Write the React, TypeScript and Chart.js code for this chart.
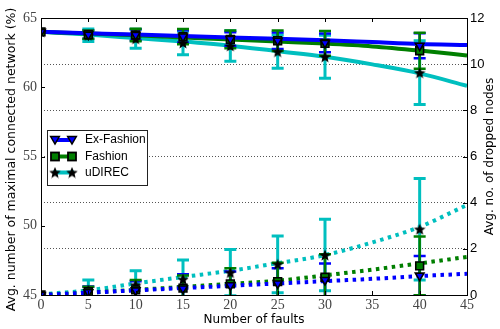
import { useEffect, useRef } from 'react';
import { Chart, registerables } from 'chart.js';
Chart.register(...registerables);

// ---- data ----
const faults = [0, 5, 10, 15, 20, 25, 30, 40];
const fitX = [0, 5, 10, 15, 20, 25, 30, 35, 40, 45];

// left axis: avg. maximal connected network (%)
const exFashionNet = [64, 63.8, 63.78, 63.66, 63.48, 63.36, 63.2, 63.0];
const exFashionNetErr = [0, 0.3, 0.4, 0.45, 0.5, 0.6, 0.68, 0.9];
const fashionNet = [64, 63.8, 63.77, 63.65, 63.46, 63.36, 63.17, 62.64];
const fashionNetErr = [0, 0.3, 0.45, 0.55, 0.64, 0.74, 0.89, 1.3];
const udirecNet = [64, 63.75, 63.5, 63.2, 62.98, 62.57, 62.2, 61.05];
const udirecNetErr = [0, 0.45, 0.68, 0.85, 1.1, 1.2, 1.55, 2.3];

const exFashionNetFit = [64, 63.9, 63.8, 63.7, 63.6, 63.5, 63.4, 63.26, 63.12, 63.05];
const fashionNetFit = [64, 63.88, 63.75, 63.6, 63.45, 63.3, 63.15, 62.95, 62.65, 62.3];
const udirecNetFit = [64, 63.8, 63.55, 63.3, 63.0, 62.6, 62.2, 61.65, 61.0, 60.1];

// right axis: avg. no. of dropped nodes
const exFashionDrop = [0, 0.12, 0.2, 0.28, 0.42, 0.5, 0.65, 0.84];
const exFashionDropErr = [0, 0.25, 0.4, 0.62, 0.6, 0.66, 0.72, 0.85];
const fashionDrop = [0, 0.14, 0.22, 0.3, 0.48, 0.58, 0.77, 1.26];
const fashionDropErr = [0, 0.22, 0.43, 0.55, 0.68, 0.82, 1.0, 1.27];
const udirecDrop = [0, 0.2, 0.43, 0.68, 0.97, 1.33, 1.73, 2.85];
const udirecDropErr = [0, 0.45, 0.62, 0.84, 1.0, 1.23, 1.55, 2.2];

const exFashionDropFit = [0, 0.1, 0.2, 0.3, 0.4, 0.5, 0.6, 0.7, 0.82, 0.92];
const fashionDropFit = [0, 0.1, 0.22, 0.35, 0.48, 0.62, 0.85, 1.1, 1.37, 1.65];
const udirecDropFit = [0.03, 0.2, 0.5, 0.78, 1.05, 1.38, 1.73, 2.28, 2.95, 3.9];

const seriesNames = ['Ex-Fashion', 'Fashion', 'uDIREC'];
const xTitle = 'Number of faults';
const yTitle = 'Avg. number of maximal connected network (%)';
const y2Title = 'Avg. no. of dropped nodes';

const BLUE = '#0000ff';
const GREEN = '#007f00';
const CYAN = '#00bfbf';

function starPath(ctx: CanvasRenderingContext2D, cx: number, cy: number, r: number) {
  ctx.beginPath();
  for (let i = 0; i < 10; i++) {
    const rad = i % 2 === 0 ? r : r * 0.45;
    const a = -Math.PI / 2 + (i * Math.PI) / 5;
    ctx.lineTo(cx + rad * Math.cos(a), cy + rad * Math.sin(a));
  }
  ctx.closePath();
}

function makeStar(r: number) {
  const c = document.createElement('canvas');
  const s = Math.ceil(r * 2 + 3);
  c.width = s;
  c.height = s;
  const ctx = c.getContext('2d')!;
  starPath(ctx, s / 2, s / 2 + 0.5, r);
  ctx.fillStyle = '#000';
  ctx.fill();
  ctx.lineWidth = 1.2;
  ctx.strokeStyle = '#000';
  ctx.stroke();
  return c;
}

function drawTri(ctx: CanvasRenderingContext2D, x: number, y: number, r: number, fill: string) {
  ctx.beginPath();
  ctx.moveTo(x - r * 0.866, y - r * 0.5);
  ctx.lineTo(x + r * 0.866, y - r * 0.5);
  ctx.lineTo(x, y + r);
  ctx.closePath();
  ctx.fillStyle = fill;
  ctx.fill();
  ctx.lineWidth = 1.5;
  ctx.strokeStyle = '#000';
  ctx.stroke();
}
function drawSq(ctx: CanvasRenderingContext2D, x: number, y: number, h: number, fill: string) {
  ctx.fillStyle = fill;
  ctx.fillRect(x - h, y - h, 2 * h, 2 * h);
  ctx.lineWidth = 1.8;
  ctx.strokeStyle = '#000';
  ctx.strokeRect(x - h, y - h, 2 * h, 2 * h);
}

export default function App() {
  const ref = useRef<HTMLCanvasElement | null>(null);
  useEffect(() => {
    document.body.style.margin = '0';
    const star = makeStar(4.5);
    const pts = (xs: number[], ys: number[]) => xs.map((x, i) => ({ x, y: ys[i] }));

    const markerDs = (data: number[], axis: string, style: any, color: string, radius: number, rot = 0) => ({
      data: pts(faults, data),
      yAxisID: axis,
      showLine: false,
      pointStyle: style,
      pointRadius: radius,
      pointRotation: rot,
      pointBackgroundColor: color,
      pointBorderColor: '#000',
      pointBorderWidth: 1.6,
      clip: 0,
    });
    const lineDs = (data: number[], axis: string, color: string, dotted: boolean) => ({
      data: pts(fitX, data),
      yAxisID: axis,
      borderColor: color,
      borderWidth: 4,
      borderDash: dotted ? [3.5, 4.5] : [],
      pointRadius: 0,
      cubicInterpolationMode: 'monotone',
      fill: false,
    });

    const errSets = [
      { c: CYAN, y: udirecNet, e: udirecNetErr, a: 'y', w: 3 },
      { c: CYAN, y: udirecDrop, e: udirecDropErr, a: 'y2', w: 3 },
      { c: BLUE, y: exFashionNet, e: exFashionNetErr, a: 'y', w: 2.5 },
      { c: BLUE, y: exFashionDrop, e: exFashionDropErr, a: 'y2', w: 2.5 },
      { c: GREEN, y: fashionNet, e: fashionNetErr, a: 'y', w: 2.5 },
      { c: GREEN, y: fashionDrop, e: fashionDropErr, a: 'y2', w: 2.5 },
    ];

    const errPlugin = {
      id: 'errbars',
      beforeDatasetDraw(chart: any, args: any) {
        if (args.index !== 5) return;
        const ctx = chart.ctx;
        const ca = chart.chartArea;
        const xs = chart.scales.x;
        ctx.save();
        ctx.beginPath();
        ctx.rect(ca.left, ca.top, ca.right - ca.left, ca.bottom - ca.top);
        ctx.clip();
        for (const s of errSets) {
          const ys = chart.scales[s.a];
          ctx.strokeStyle = s.c;
          ctx.lineWidth = s.w;
          faults.forEach((f, i) => {
            if (s.e[i] <= 0) return;
            const px = xs.getPixelForValue(f);
            const top = ys.getPixelForValue(s.y[i] + s.e[i]);
            const bot = ys.getPixelForValue(s.y[i] - s.e[i]);
            ctx.beginPath();
            ctx.moveTo(px, top);
            ctx.lineTo(px, bot);
            ctx.moveTo(px - 6, top);
            ctx.lineTo(px + 6, top);
            ctx.moveTo(px - 6, bot);
            ctx.lineTo(px + 6, bot);
            ctx.stroke();
          });
        }
        ctx.restore();
      },
    };

    const decoPlugin = {
      id: 'deco',
      afterDraw(chart: any) {
        const ctx = chart.ctx;
        const ca = chart.chartArea;
        const { x, y, y2 } = chart.scales;
        ctx.save();
        // frame
        ctx.strokeStyle = '#000';
        ctx.lineWidth = 1;
        ctx.strokeRect(Math.round(ca.left) + 0.5, Math.round(ca.top) + 0.5, Math.round(ca.right - ca.left), Math.round(ca.bottom - ca.top));
        // inward ticks
        ctx.beginPath();
        for (let v = 0; v <= 45; v += 5) {
          const px = Math.round(x.getPixelForValue(v)) + 0.5;
          ctx.moveTo(px, ca.bottom);
          ctx.lineTo(px, ca.bottom - 4);
          ctx.moveTo(px, ca.top);
          ctx.lineTo(px, ca.top + 4);
        }
        for (let v = 45; v <= 65; v += 5) {
          const py = Math.round(y.getPixelForValue(v)) + 0.5;
          ctx.moveTo(ca.left, py);
          ctx.lineTo(ca.left + 4, py);
        }
        for (let v = 0; v <= 12; v += 2) {
          const py = Math.round(y2.getPixelForValue(v)) + 0.5;
          ctx.moveTo(ca.right, py);
          ctx.lineTo(ca.right - 4, py);
        }
        ctx.stroke();

        // axis titles
        ctx.fillStyle = '#000';
        ctx.textAlign = 'center';
        ctx.textBaseline = 'middle';
        const cy = (ca.top + ca.bottom) / 2;
        ctx.font = '12px "DejaVu Sans"';
        ctx.fillText(xTitle, (ca.left + ca.right) / 2, 320);
        ctx.save();
        ctx.translate(12, cy + 3);
        ctx.rotate(-Math.PI / 2);
        ctx.font = '12.5px "DejaVu Sans"';
        ctx.fillText(yTitle, 0, 0);
        ctx.restore();
        ctx.save();
        ctx.translate(490, cy);
        ctx.rotate(-Math.PI / 2);
        ctx.font = '12px "DejaVu Sans"';
        ctx.fillText(y2Title, 0, 0);
        ctx.restore();

        // legend
        const lx = 47, ly = 130, lw = 100, lh = 55;
        ctx.fillStyle = '#fff';
        ctx.fillRect(lx, ly, lw, lh);
        ctx.strokeStyle = '#222';
        ctx.lineWidth = 1;
        ctx.strokeRect(lx + 0.5, ly + 0.5, lw, lh);
        const rows = [140, 156.5, 172.5];
        const cols = [BLUE, GREEN, CYAN];
        rows.forEach((ry, i) => {
          ctx.strokeStyle = cols[i];
          ctx.lineWidth = 4;
          ctx.beginPath();
          ctx.moveTo(53, ry);
          ctx.lineTo(74, ry);
          ctx.stroke();
          [55, 72].forEach((mx) => {
            if (i === 0) drawTri(ctx, mx, ry - 1, 5, BLUE);
            else if (i === 1) drawSq(ctx, mx, ry, 4, GREEN);
            else ctx.drawImage(star, mx - star.width / 2, ry - star.height / 2);
          });
          ctx.fillStyle = '#000';
          ctx.font = '12px "Liberation Sans"';
          ctx.textAlign = 'left';
          ctx.textBaseline = 'middle';
          ctx.fillText(seriesNames[i], 85, ry);
        });
        ctx.restore();
      },
    };

    const serif = { family: '"Liberation Serif"', size: 14 };
    const chart = new Chart(ref.current!, {
      type: 'line',
      data: {
        datasets: [
          markerDs(exFashionNet, 'y', 'triangle', BLUE, 5, 180),
          markerDs(exFashionDrop, 'y2', 'triangle', BLUE, 5, 180),
          markerDs(fashionNet, 'y', 'rect', GREEN, 5.5),
          markerDs(fashionDrop, 'y2', 'rect', GREEN, 5.5),
          markerDs(udirecNet, 'y', star, '#000', 5),
          markerDs(udirecDrop, 'y2', star, '#000', 5),
          lineDs(exFashionNetFit, 'y', BLUE, false),
          lineDs(fashionNetFit, 'y', GREEN, false),
          lineDs(udirecNetFit, 'y', CYAN, false),
          lineDs(exFashionDropFit, 'y2', BLUE, true),
          lineDs(fashionDropFit, 'y2', GREEN, true),
          lineDs(udirecDropFit, 'y2', CYAN, true),
        ] as any,
      },
      options: {
        animation: false,
        responsive: false,
        maintainAspectRatio: false,
        layout: { padding: { top: 18, left: 0, right: 0, bottom: 0 } },
        plugins: { legend: { display: false }, tooltip: { enabled: false } },
        scales: {
          x: {
            type: 'linear',
            min: 0,
            max: 45,
            ticks: { stepSize: 5, font: serif, color: '#444', padding: 2, maxRotation: 0 },
            grid: { display: false, drawTicks: false },
            border: { display: false },
            afterFit: (s: any) => { s.height = 34; },
          },
          y: {
            position: 'left',
            min: 45,
            max: 65,
            ticks: { stepSize: 5, font: serif, color: '#444', padding: 4 },
            grid: { display: false, drawTicks: false },
            border: { display: false },
            afterFit: (s: any) => { s.width = 41; },
          },
          y2: {
            position: 'right',
            min: 0,
            max: 12,
            ticks: { stepSize: 2, font: { family: '"Liberation Sans"', size: 13 }, color: '#000', padding: 3 },
            grid: {
              drawOnChartArea: true,
              drawTicks: false,
              color: (c: any) => (c.tick && (c.tick.value === 0 || c.tick.value === 12) ? 'rgba(0,0,0,0)' : '#555'),
              lineWidth: 1,
            },
            border: { display: false, dash: [1, 2] },
            afterFit: (s: any) => { s.width = 33; },
          },
        },
      } as any,
      plugins: [errPlugin, decoPlugin],
    });
    return () => chart.destroy();
  }, []);
  return (
    <div style={{ width: 500, height: 329 }}>
      <canvas ref={ref} width={500} height={329} style={{ display: 'block' }} />
    </div>
  );
}
